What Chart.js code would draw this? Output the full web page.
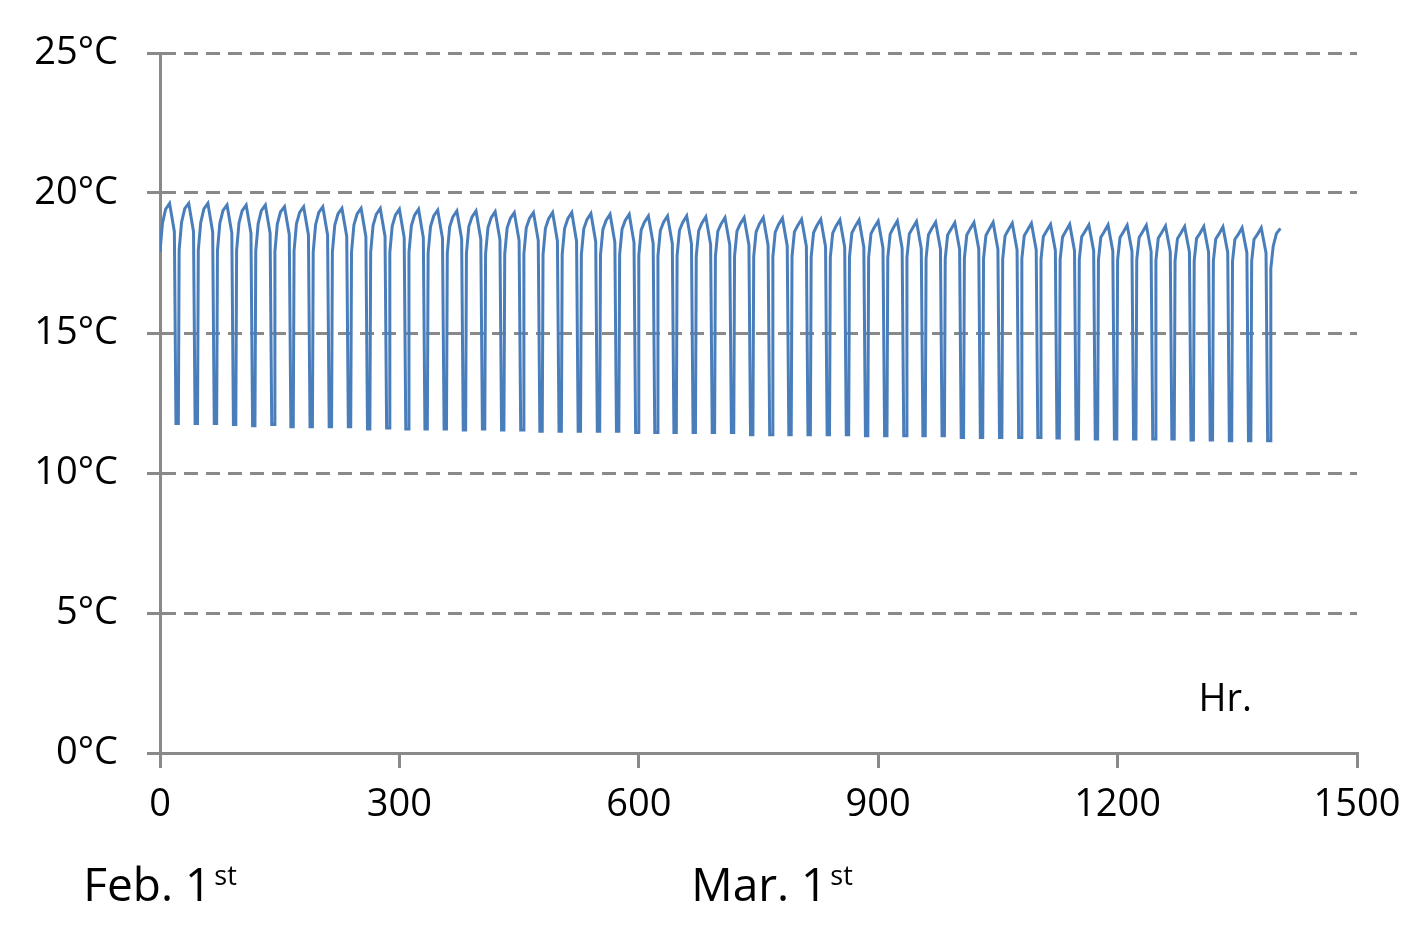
<!DOCTYPE html>
<html>
<head>
<meta charset="utf-8">
<script src="https://cdn.jsdelivr.net/npm/chart.js@4.4.1/dist/chart.umd.min.js"></script>
<style>
  html, body { margin: 0; padding: 0; background: #fff; }
</style>
</head>
<body>
<canvas id="chart1" width="1423" height="943"></canvas>
<script>
// daily readings (°C), one value per day
// heating comes on at hour 0 of each day, peaks around hour 12, drops in the evening
const riseTemp = [
  17.9, 17.96, 17.95, 17.94, 17.95, 17.92, 17.91, 17.93, 17.9, 17.88,
  17.89, 17.87, 17.86, 17.88, 17.85, 17.84, 17.85, 17.83, 17.82, 17.83,
  17.8, 17.81, 17.79, 17.78, 17.8, 17.77, 17.76, 17.77, 17.75, 17.74,
  17.75, 17.73, 17.72, 17.73, 17.71, 17.7, 17.71, 17.69, 17.68, 17.69,
  17.67, 17.66, 17.67, 17.65, 17.64, 17.65, 17.63, 17.62, 17.63, 17.61,
  17.6, 17.61, 17.59, 17.58, 17.59, 17.57, 17.56, 17.57, 17.3
];
const morningTemp = [
  18.9, 18.95, 18.94, 18.92, 18.93, 18.9, 18.89, 18.9, 18.87, 18.85,
  18.86, 18.84, 18.82, 18.83, 18.8, 18.79, 18.8, 18.77, 18.75, 18.76,
  18.74, 18.73, 18.71, 18.7, 18.71, 18.68, 18.66, 18.67, 18.65, 18.63,
  18.64, 18.61, 18.6, 18.61, 18.58, 18.57, 18.57, 18.55, 18.53, 18.54,
  18.51, 18.5, 18.5, 18.48, 18.47, 18.47, 18.45, 18.43, 18.44, 18.42,
  18.41, 18.41, 18.39, 18.37, 18.38, 18.36, 18.35, 18.35, 18.1
];
const forenoonTemp = [
  19.42, 19.44, 19.43, 19.38, 19.37, 19.37, 19.32, 19.31, 19.31, 19.25,
  19.25, 19.24, 19.21, 19.21, 19.18, 19.15, 19.15, 19.12, 19.09, 19.09,
  19.08, 19.08, 19.05, 19.02, 19.02, 18.96, 18.96, 18.95, 18.92, 18.89,
  18.89, 18.89, 18.87, 18.83, 18.83, 18.81, 18.8, 18.77, 18.76, 18.74,
  18.72, 18.7, 18.71, 18.7, 18.68, 18.67, 18.64, 18.63, 18.62, 18.61,
  18.6, 18.6, 18.57, 18.55, 18.55, 18.54, 18.51, 18.51, 18.55
];
const peakTemp = [
  19.63, 19.63, 19.63, 19.57, 19.57, 19.57, 19.51, 19.51, 19.51, 19.45,
  19.45, 19.45, 19.42, 19.42, 19.39, 19.36, 19.36, 19.33, 19.3, 19.3,
  19.3, 19.3, 19.27, 19.24, 19.24, 19.18, 19.18, 19.18, 19.15, 19.12,
  19.12, 19.12, 19.1, 19.06, 19.06, 19.04, 19.04, 19.0, 19.0, 18.98,
  18.96, 18.94, 18.95, 18.95, 18.92, 18.92, 18.88, 18.88, 18.86, 18.86,
  18.85, 18.85, 18.82, 18.8, 18.8, 18.79, 18.76, 18.76, 18.74
];
const eveningTemp = [
  18.62, 18.62, 18.61, 18.57, 18.56, 18.56, 18.51, 18.5, 18.5, 18.45,
  18.44, 18.45, 18.41, 18.4, 18.38, 18.36, 18.35, 18.33, 18.3, 18.3,
  18.29, 18.28, 18.26, 18.24, 18.23, 18.2, 18.19, 18.19, 18.16, 18.14,
  18.14, 18.13, 18.11, 18.09, 18.08, 18.07, 18.06, 18.04, 18.03, 18.01,
  18.0, 17.99, 18.0, 17.99, 17.97, 17.97, 17.95, 17.94, 17.94, 17.93,
  17.92, 17.91, 17.9, 17.89, 17.89, 17.88, 17.87, 17.86
];
const troughTemp = [
  11.77, 11.77, 11.77, 11.73, 11.69, 11.73, 11.65, 11.65, 11.65, 11.65,
  11.57, 11.61, 11.57, 11.57, 11.57, 11.54, 11.57, 11.54, 11.54, 11.49,
  11.49, 11.49, 11.49, 11.49, 11.45, 11.45, 11.45, 11.45, 11.45, 11.45,
  11.37, 11.37, 11.37, 11.37, 11.37, 11.37, 11.33, 11.33, 11.33, 11.33,
  11.33, 11.27, 11.27, 11.27, 11.27, 11.27, 11.25, 11.21, 11.21, 11.21,
  11.21, 11.21, 11.21, 11.18, 11.18, 11.15, 11.15, 11.15
];
// hour of the day at which each reading sits
const riseHour = 0, morningHour = 3, forenoonHour = 7, peakHour = 12;
const eveningHour = 18, lowHour = 20, troughHour = 23;

const yTicks = [0, 5, 10, 15, 20, 25];
const xTicks = [0, 300, 600, 900, 1200, 1500];
const dateLabels = [
  { main: 'Feb. 1', sup: 'st', hour: 0 },
  { main: 'Mar. 1', sup: 'st', hour: 767 }
];
const unitLabel = { text: 'Hr.', hour: 1335, temp: 1.5 };

// build the hourly series
const data1 = [];
for (let d = 0; d < riseTemp.length; d++) {
  const h0 = d * 24;
  data1.push({ x: h0 + riseHour, y: riseTemp[d] });
  data1.push({ x: h0 + morningHour, y: morningTemp[d] });
  data1.push({ x: h0 + forenoonHour, y: forenoonTemp[d] });
  data1.push({ x: h0 + peakHour, y: peakTemp[d] });
  if (eveningTemp[d] === undefined) break;
  data1.push({ x: h0 + eveningHour, y: eveningTemp[d] });
  data1.push({ x: h0 + lowHour, y: troughTemp[d] });
  data1.push({ x: h0 + troughHour, y: troughTemp[d] });
}

const FONT = '"Open Sans", "Noto Sans", sans-serif';
const GRID = '#898989';

const notesPlugin = {
  id: 'notes',
  afterDraw(chart) {
    const ctx = chart.ctx;
    const xs = chart.scales.x, ys = chart.scales.y;
    ctx.save();
    ctx.fillStyle = '#000';
    ctx.textBaseline = 'alphabetic';
    // Hr.
    ctx.font = '38px ' + FONT;
    ctx.textAlign = 'center';
    ctx.fillText(unitLabel.text, xs.getPixelForValue(unitLabel.hour), ys.getPixelForValue(unitLabel.temp));
    // dates under the axis
    const base = chart.chartArea.bottom + 148;
    ctx.textAlign = 'left';
    dateLabels.forEach(l => {
      ctx.font = '46px ' + FONT;
      const w1 = ctx.measureText(l.main).width;
      ctx.font = '27px ' + FONT;
      const w2 = ctx.measureText(l.sup).width;
      const x0 = xs.getPixelForValue(l.hour) - (w1 + 3 + w2) / 2;
      ctx.font = '46px ' + FONT;
      ctx.fillText(l.main, x0, base);
      ctx.font = '27px ' + FONT;
      ctx.fillText(l.sup, x0 + w1 + 3, base - 16);
    });
    ctx.restore();
  }
};

const cfg1 = {
  type: 'line',
  data: {
    datasets: [
      { label: 'Temperature', data: data1, borderColor: '#4A7EBB', borderWidth: 3,
        pointRadius: 0, tension: 0, fill: false }
    ]
  },
  options: {
    responsive: false,
    animation: false,
    parsing: false,
    normalized: true,
    layout: { padding: { left: 0, top: 53, right: 66, bottom: 0 } },
    plugins: { legend: { display: false }, tooltip: { enabled: false } },
    scales: {
      x: {
        type: 'linear', min: 0, max: 1500,
        afterBuildTicks: s => { s.ticks = xTicks.map(v => ({ value: v })); },
        afterFit: s => { s.height = 190; },
        border: { display: true, color: GRID, width: 3 },
        grid: { drawOnChartArea: false, drawTicks: true, tickLength: 15, color: GRID, lineWidth: 3 },
        ticks: { color: '#000', font: { family: FONT, size: 38 }, padding: 14, maxRotation: 0, autoSkip: false,
          callback: v => String(v) }
      },
      y: {
        type: 'linear', min: 0, max: 25,
        afterBuildTicks: s => { s.ticks = yTicks.map(v => ({ value: v })); },
        afterFit: s => { s.width = 160; },
        border: { display: true, color: GRID, width: 3, dash: [14, 8] },
        grid: { color: GRID, lineWidth: 3, tickLength: 13, tickBorderDash: [] },
        ticks: { color: '#000', font: { family: FONT, size: 38 }, padding: 29,
          callback: v => v + '°C' }
      }
    }
  },
  plugins: [notesPlugin]
};

const chart1 = new Chart(document.getElementById('chart1').getContext('2d'), cfg1);
</script>
</body>
</html>
